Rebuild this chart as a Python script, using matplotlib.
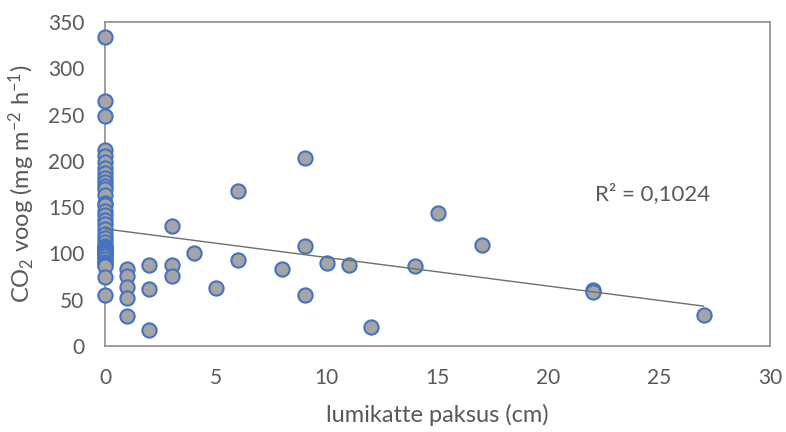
import numpy as np
import matplotlib
matplotlib.use("Agg")
import matplotlib.pyplot as plt

plt.rcParams['font.family'] = ['Lato', 'DejaVu Sans']
plt.rcParams['mathtext.fontset'] = 'custom'
plt.rcParams['mathtext.rm'] = 'Lato'
plt.rcParams['mathtext.it'] = 'Lato'

# snow depth (cm) and CO2 flux (mg m-2 h-1); many points overlap at 0 cm
x0_vals = [334, 265, 248, 212, 205, 199, 192, 187, 181, 177, 173, 170, 163, 155, 152,
           146, 141, 136, 132, 126, 121, 117, 112, 108, 107, 107, 106, 105, 104, 104,
           102, 101, 99, 99, 97, 94, 94, 91, 90, 87, 86, 75, 55]
other_x = [1, 1, 1, 1, 1, 2, 2, 2, 3, 3, 3, 4, 5, 6, 6, 8, 9, 9, 9, 10, 11, 12, 14, 15, 17, 22, 22, 27]
other_y = [83, 76, 64, 52, 32, 87, 62, 17, 130, 88, 76, 100, 63, 167, 93, 83, 203, 108, 55, 90, 88, 20, 86, 144, 109, 60, 58, 34]

depth = np.array([0] * len(x0_vals) + other_x, dtype=float)
flux = np.array(x0_vals + other_y, dtype=float)

x_ticks = [0, 5, 10, 15, 20, 25, 30]
y_ticks = [0, 50, 100, 150, 200, 250, 300, 350]
r2_label = "R² = 0,1024"

fig = plt.figure(figsize=(7.86, 4.32), dpi=100)
ax = fig.add_axes([105/786, 1 - 346/432, (770-105)/786, (346-22)/432])

ax.scatter(depth, flux, s=105, facecolor='#A5A5A5', edgecolor='#4472C4',
           linewidth=1.5, zorder=3, clip_on=False)

coef = np.polyfit(depth, flux, 1)
xl = np.array([depth.min(), depth.max()])
ax.plot(xl, np.polyval(coef, xl), color='#6e6e6e', linewidth=1.0, zorder=4)

ax.text(22.1, 165, r2_label, fontsize=16, color='#595959', va='center', ha='left')

ax.set_xlim(0, 30)
ax.set_ylim(0, 350)
ax.set_xticks(x_ticks)
ax.set_yticks(y_ticks)
ax.tick_params(length=0, labelsize=15, colors='#595959')
ax.tick_params(axis='y', pad=15)
ax.tick_params(axis='x', pad=16)
for s in ax.spines.values():
    s.set_color('#8c8c8c')
    s.set_linewidth(1.2)

ax.set_xlabel("lumikatte paksus (cm)", fontsize=17, color='#595959', labelpad=11)
ax.set_ylabel(r"CO$_2$ voog (mg m$^{\mathrm{-2}}$ h$^{\mathrm{-1}}$)", fontsize=17,
              color='#595959', labelpad=8)

fig.savefig("out.png", dpi=100)
